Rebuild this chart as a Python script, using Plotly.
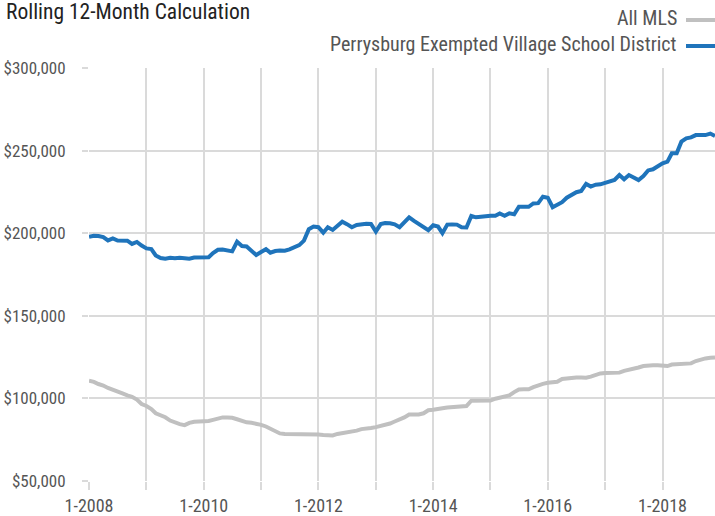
import pandas as pd
import plotly.graph_objects as go

months = pd.date_range("2008-01-01", "2018-12-01", freq="MS")

perrysburg = [
    197.8, 198.5, 198.3, 197.6, 195.6, 196.8, 195.6, 195.5, 195.5, 193.5, 194.7, 192.5,
    190.8, 190.4, 186.5, 185.0, 184.6, 185.1, 184.8, 185.2, 184.9, 184.6, 185.3, 185.2,
    185.3, 185.5, 188.0, 190.0, 190.1, 189.8, 189.0, 194.8, 192.2, 192.0, 189.0, 186.8,
    188.6, 190.3, 188.2, 189.2, 189.5, 189.4, 190.2, 191.5, 192.8, 195.5, 202.4, 204.0,
    203.6, 200.3, 203.6, 202.0, 204.5, 207.0, 205.5, 203.6, 205.0, 205.6, 205.7, 205.6,
    201.0, 205.5, 206.2, 206.0, 205.4, 203.6, 206.5, 209.6, 207.5, 205.5, 203.5, 201.8,
    204.8, 204.0, 200.0, 205.2, 205.3, 205.2, 203.6, 203.5, 210.4, 209.6, 209.9, 210.5,
    210.6, 210.6, 212.0, 210.6, 212.0, 211.5, 216.0, 216.0, 216.0, 218.0, 218.2, 222.1,
    221.5, 215.7, 217.5, 218.8, 221.5, 223.3, 224.8, 225.6, 229.8, 228.2, 229.4, 229.6,
    230.5, 230.8, 232.2, 235.2, 232.6, 235.2, 233.8, 232.2, 234.6, 238.0, 238.7, 240.7,
    242.3, 243.3, 248.4, 248.4, 255.4, 257.4, 258.0, 259.4, 259.4, 259.4, 260.3, 258.8,
]

all_mls = [
    110.7, 110.0, 108.7, 107.8, 106.3, 105.4, 104.5, 103.0, 101.8, 101.0, 99.3, 96.6,
    95.4, 93.5, 91.0, 89.8, 88.6, 86.6, 85.3, 84.4, 83.8, 85.2, 85.9, 85.9,
    85.9, 86.3, 87.0, 87.8, 88.5, 88.5, 88.3, 87.4, 86.2, 85.5, 85.2, 84.9,
    84.0, 83.0, 81.8, 80.2, 78.8, 78.4, 78.4, 78.8, 78.8, 78.8, 78.8, 78.6,
    78.2, 77.9, 77.8, 77.6, 78.5, 79.0, 79.0, 79.8, 80.5, 81.4, 81.6, 82.1,
    82.6, 83.2, 84.2, 84.8, 86.0, 87.0, 88.5, 90.3, 90.3, 90.3, 91.0, 92.8,
    93.1, 93.3, 94.0, 94.5, 94.8, 95.2, 95.3, 95.4, 98.6, 98.6, 98.6, 98.6,
    98.7, 99.8, 100.3, 100.7, 101.8, 103.8, 105.4, 105.5, 105.5, 106.8, 108.0, 108.8,
    109.5, 110.0, 110.1, 111.8, 112.2, 112.5, 112.6, 112.7, 112.5, 113.2, 114.3, 115.1,
    115.4, 115.5, 115.5, 115.6, 116.7, 117.2, 118.0, 118.7, 119.6, 120.0, 120.1, 120.1,
    120.1, 119.6, 120.5, 120.8, 120.9, 121.0, 121.2, 122.6, 123.6, 124.2, 124.6, 124.8,
]

year_ticks = pd.date_range("2008-01-01", "2018-01-01", freq="YS")
year_labels = [f"1-{d.year}" if d.year % 2 == 0 else "" for d in year_ticks]
y_ticks = [50000, 100000, 150000, 200000, 250000, 300000]
y_labels = [f"${v:,}" for v in y_ticks]

title_text = "Rolling 12-Month Calculation"
series_names = ["All MLS", "Perrysburg Exempted Village School District"]

FONT = "Liberation Sans Narrow, Roboto Condensed, Arial Narrow, Roboto, sans-serif"
BLUE = "#1f74bb"
GRAY = "#c0c0c0"
GRID = "#dadada"

fig = go.Figure()
fig.add_trace(go.Scatter(x=months, y=[v * 1000 for v in all_mls], mode="lines",
                         name=series_names[0], line=dict(color=GRAY, width=4),
                         cliponaxis=False))
fig.add_trace(go.Scatter(x=months, y=[v * 1000 for v in perrysburg], mode="lines",
                         name=series_names[1], line=dict(color=BLUE, width=4),
                         cliponaxis=False))

fig.update_layout(
    width=715, height=516,
    margin=dict(l=89, r=0, t=68, b=35, autoexpand=False),
    paper_bgcolor="white", plot_bgcolor="white",
    showlegend=False,
    font=dict(family=FONT, size=18, color="#555555"),
)
fig.update_xaxes(
    range=[months[0], months[-1]],
    tickvals=list(year_ticks), ticktext=year_labels,
    showgrid=True, gridcolor=GRID, gridwidth=2,
    ticks="outside", ticklen=8, tickcolor=GRID, tickwidth=2,
    showline=False, zeroline=False, automargin=False,
    tickfont=dict(family=FONT, size=18, color="#555555"),
)
fig.update_yaxes(
    range=[50000, 300000],
    tickvals=y_ticks, ticktext=y_labels,
    showgrid=True, gridcolor=GRID, gridwidth=2,
    ticks="outside", ticklen=6, tickcolor=GRID, tickwidth=2,
    ticklabelstandoff=13,
    showline=False, zeroline=False, automargin=False,
    tickfont=dict(family=FONT, size=17, color="#555555"),
)

fig.add_annotation(text=title_text, xref="paper", yref="paper", x=-85/626, y=1 + 56/413,
                   xanchor="left", yanchor="middle", showarrow=False,
                   font=dict(family=FONT, size=21.5, color="#222222"))

legend_rows = [(series_names[0], GRAY, 18), (series_names[1], BLUE, 44)]
for name, color, ypx in legend_rows:
    ypaper = 1 + (68 - ypx) / 413
    fig.add_annotation(text=name, xref="paper", yref="paper", x=(679 - 89) / 626, y=ypaper,
                       xanchor="right", yanchor="middle", showarrow=False,
                       font=dict(family=FONT, size=20, color="#555555"))
    fig.add_shape(type="line", xref="paper", yref="paper",
                  x0=(686 - 89) / 626, x1=1.0, y0=ypaper - 2/413, y1=ypaper - 2/413,
                  line=dict(color=color, width=4))

fig.write_html("out.html", config={"displayModeBar": False},
               post_script="document.body.style.margin='0';document.body.style.overflow='hidden';")
